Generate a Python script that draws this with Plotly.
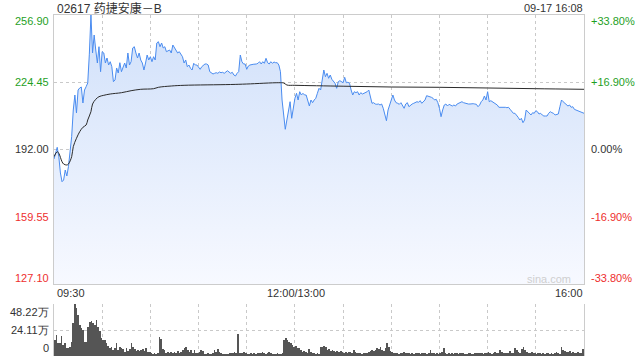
import numpy as np
import plotly.graph_objects as go

# ---------------- data ----------------
title_text = "02617 药捷安康－B"
stamp_text = "09-17 16:08"
prev_close = 192.00

price_min = [0, 2, 3, 4, 5, 6, 7, 8, 9, 10, 11, 12, 13, 14, 15, 16, 17, 18, 19, 20,
             21, 22, 23, 24, 25, 26, 27, 28, 29, 30, 31, 32, 33, 34, 35, 36, 37, 38, 39, 40,
             41, 42, 44, 45, 46, 47, 48, 49, 50, 51, 52, 53, 54, 55, 56, 57, 58, 59, 60, 61,
             62, 63, 64, 65, 66, 67, 68, 69, 70, 72, 73, 74, 75, 76, 77, 78, 79, 80, 81,
             82, 83, 84, 85, 86, 87, 88, 89, 90, 91, 92, 93, 94, 95, 96, 97, 98, 99, 100,
             101, 102, 103, 104, 105, 106, 107, 108, 110, 111, 112, 113, 114, 115, 116, 117,
             118, 119, 120, 121, 122, 123, 124, 126, 127, 128, 129, 130, 131, 132, 133, 134,
             135, 136, 137, 138, 139, 140, 141, 142, 143, 144, 145, 146, 147, 148, 149, 150,
             151, 152, 153, 154, 155, 156, 157, 158, 159, 160, 161, 162, 163, 164, 165, 166,
             167, 168, 169, 170, 171, 172, 173, 174, 175, 176, 177, 178, 179, 180, 181, 182,
             183, 184, 185, 186, 187, 188, 189, 190, 191, 192, 193, 194, 195, 196, 197, 198,
             199, 200, 201, 202, 203, 204, 205, 206, 207, 208, 209, 210, 211, 212, 213, 214,
             215, 216, 217, 218, 219, 220, 221, 222, 223, 224, 225, 226, 227, 228, 229, 230,
             231, 232, 233, 234, 235, 236, 237, 238, 239, 240, 241, 242, 243, 244, 245, 246,
             247, 248, 249, 250, 251, 252, 253, 254, 255, 256, 258, 259, 260, 261, 262, 263,
             264, 265, 266, 267, 268, 269, 270, 271, 272, 273, 274, 275, 276, 277, 278, 279,
             280, 281, 282, 283, 284, 286, 287, 288, 289, 290, 291, 292, 293, 294, 295, 296,
             297, 298, 299, 300, 301, 302, 303, 304, 305, 306, 307, 308, 309, 310, 311, 312,
             314, 315, 316, 317, 318, 319, 320, 321, 322, 323, 324, 325, 326, 327, 328, 330]

price = [187.42, 193.06, 188.53, 180.66, 176.46, 177.28, 182.11, 179.21, 183.70, 190.31,
         198.18, 211.06, 218.30, 209.61, 220.71, 221.68, 222.16, 214.44, 220.71, 222.30,
         224.09, 238.00, 256.90, 238.56, 247.25, 240.01, 233.74, 241.60, 229.54, 239.19,
         238.56, 233.74, 236.15, 232.77, 234.37, 231.95, 224.72, 225.54, 231.33, 228.91,
         233.88, 229.54, 233.74, 231.33, 238.56, 232.77, 234.37, 240.98, 241.60, 238.56,
         236.15, 238.56, 235.19, 233.74, 230.36, 233.74, 237.60, 235.19, 236.78, 234.37,
         236.78, 235.19, 243.39, 244.02, 241.60, 243.39, 240.98, 241.60, 239.19, 240.01,
         238.56, 242.42, 240.98, 240.01, 238.56, 239.19, 237.60, 236.78, 233.74,
         235.19, 231.95, 232.77, 231.18, 230.36, 233.59, 232.77, 232.77, 231.95, 230.70,
         231.95, 232.77, 233.26, 233.26, 232.77, 229.54, 228.77, 228.43, 228.77,
         229.06, 228.77, 229.40, 229.06, 229.25, 228.77, 229.54, 230.02, 228.77, 229.25,
         227.95, 227.47, 228.77, 229.54, 237.60, 234.37,
         233.26, 233.26, 230.70, 232.29, 232.77, 232.77, 233.11, 233.26, 233.59, 234.37,
         233.26, 234.37, 233.59, 236.01, 233.88, 233.26,
         234.37, 233.59, 234.22, 233.88, 233.88, 232.77, 229.54, 215.88, 207.83, 201.75,
         206.23, 211.06, 215.06, 207.05, 212.65, 216.71,
         219.12, 215.88, 219.89, 218.30, 219.12, 218.30, 218.30, 215.88, 212.99, 215.88,
         214.58, 215.88, 216.71, 219.12, 221.53, 220.71,
         226.36, 230.36, 227.13, 228.77, 226.36, 227.95, 225.87, 224.72, 223.94, 221.53,
         224.72, 225.20, 224.72, 224.23, 226.84, 224.23,
         224.43, 223.94, 220.71, 218.30, 219.89, 219.41, 219.89, 218.30, 219.41, 218.78,
         219.12, 219.41, 219.89, 220.71, 217.48, 214.29,
         214.58, 213.95, 213.81, 213.95, 213.47, 213.95, 211.88, 209.47, 205.90, 211.06,
         213.47, 215.88, 218.30, 215.88, 214.58, 214.29,
         213.81, 214.58, 213.47, 211.88, 213.95, 214.58, 212.65, 213.47, 213.95, 214.29,
         214.58, 215.06, 214.78, 215.55, 214.29, 215.06,
         215.88, 217.96, 217.82, 217.48, 217.19, 216.71, 215.88, 216.22, 214.58, 211.88,
         207.83, 211.06, 213.47, 213.95, 212.99, 213.81,
         213.47, 212.99, 213.47, 212.99, 213.95, 214.29, 214.58, 215.06, 214.58, 214.29,
         213.95, 213.95, 214.10, 214.10, 213.95, 213.81,
         212.65, 213.47, 215.06, 215.88, 217.82, 215.88, 219.89, 215.06, 215.55, 215.06,
         214.58, 214.29, 213.47, 212.36, 212.36, 212.65,
         212.65, 212.36, 212.17, 212.36, 211.40, 209.47, 209.47, 208.65, 207.54, 206.23,
         207.05, 204.93, 206.23, 211.06, 210.24, 209.47,
         208.65, 209.76, 209.47, 210.72, 210.24, 209.13, 209.47, 208.65, 208.16, 208.16,
         208.16, 209.47, 210.24, 209.76, 209.47, 208.65,
         209.13, 212.65, 215.88, 215.06, 214.29, 213.95, 212.99, 213.47, 212.36, 212.65,
         211.40, 211.06, 210.72, 210.24, 209.76, 209.47]

avg_min = [0, 2, 3, 5, 6, 8, 9, 11, 12, 14, 16, 18, 20, 21, 23, 24, 26, 28, 31, 35, 42,
           48, 54, 62, 65, 73, 81, 110, 120, 140, 143, 145, 150, 180, 210, 240, 270, 300, 330]
avg_price = [188.53, 190.94, 190.17, 186.11, 185.00, 184.52, 185.00, 188.53, 193.35, 197.40,
             200.59, 202.71, 203.82, 206.23, 210.24, 213.95, 216.22, 217.48, 218.15, 218.78,
             219.41, 220.37, 221.05, 221.34, 222.01, 222.64, 222.98, 223.36, 223.60, 224.23,
             224.09, 223.12, 222.98, 222.54, 222.16, 222.01, 221.68, 221.34, 221.05]

volume_morning = [14.84, 19.47, 12.36, 12.36, 18.55, 10.2, 11.75, 7.11, 7.11, 8.65,
                  13.29, 30.29, 48.22, 44.2, 38.02, 28.75, 25.66, 24.11, 13.29, 13.29,
                  27.2, 31.84, 32.46, 30.91, 28.75, 33.38, 27.2, 23.49, 16.38, 14.84,
                  14.84, 11.75, 9.27, 7.11, 8.04, 5.56, 7.11, 12.36, 5.56, 8.04,
                  7.11, 6.18, 4.02, 7.11, 4.95, 6.18, 11.75, 8.04, 6.18, 4.95,
                  5.56, 4.95, 5.56, 6.18, 4.95, 7.11, 4.02, 4.02, 3.09, 1.85,
                  2.47, 1.85, 3.09, 17.31, 16.07, 6.18, 5.56, 3.09, 4.02, 3.09,
                  3.7, 3.09, 4.02, 3.09, 4.95, 3.09, 4.02, 5.56, 7.11, 8.04,
                  5.56, 4.02, 5.56, 3.09, 5.56, 2.47, 3.09, 4.02, 5.56, 4.95,
                  1.85, 1.85, 2.47, 1.85, 1.85, 3.09, 5.56, 4.02, 6.18, 4.02,
                  2.47, 1.85, 1.85, 1.85, 1.85, 3.09, 2.47, 3.09, 4.02, 3.09,
                  20.4, 3.09, 2.47, 3.09, 4.02, 2.47, 1.85, 1.85, 2.47, 1.85,
                  2.47, 1.85, 2.47, 2.47, 3.09, 4.02, 2.47, 1.85, 2.47, 4.02,
                  3.09, 1.85, 1.85, 1.85, 2.47, 1.85, 1.85, 2.47, 14.84, 16.38,
                  14.84, 13.29, 11.75, 10.2, 8.04, 9.27, 7.11, 7.11, 5.56, 4.02,
                  4.95, 4.02, 3.09, 6.18, 4.02, 3.09, 2.47, 1.85, 2.47, 1.85]
volume_afternoon = [8.04, 8.65, 9.27, 8.04, 5.56, 6.18, 4.95, 5.56, 4.95, 4.02,
                    4.95, 4.02, 4.95, 4.02, 3.09, 4.02, 3.09, 4.02, 4.02, 3.09,
                    5.56, 4.02, 3.09, 2.47, 2.47, 1.85, 2.47, 3.09, 2.47, 4.02,
                    4.95, 5.56, 4.95, 5.56, 7.11, 6.18, 8.04, 5.56, 4.95, 7.11,
                    11.75, 8.65, 4.95, 4.02, 3.09, 2.47, 2.47, 1.85, 2.47, 3.09,
                    4.02, 2.47, 3.09, 2.47, 1.85, 2.47, 1.85, 2.47, 3.09, 2.47,
                    1.85, 2.47, 3.09, 2.47, 1.85, 2.47, 5.56, 3.09, 2.47, 1.85,
                    2.47, 1.85, 2.47, 4.02, 7.11, 2.47, 1.85, 2.47, 1.85, 2.47,
                    1.85, 2.47, 2.47, 1.85, 3.09, 2.47, 2.47, 1.85, 1.85, 2.47,
                    2.47, 1.85, 1.85, 2.47, 2.47, 3.09, 3.09, 2.47, 1.85, 2.47,
                    3.09, 4.02, 2.47, 1.85, 3.09, 4.02, 3.09, 2.47, 5.56, 4.02,
                    2.47, 3.09, 2.47, 3.09, 4.95, 3.09, 2.47, 7.11, 5.56, 4.02,
                    3.09, 6.18, 8.04, 5.56, 4.02, 3.09, 2.47, 4.02, 3.09, 2.47,
                    1.85, 3.09, 2.47, 1.85, 2.47, 1.85, 3.09, 2.47, 1.85, 2.47,
                    1.85, 3.09, 4.02, 2.47, 1.85, 8.04, 5.56, 4.95, 4.02, 4.02,
                    4.95, 3.09, 4.02, 2.47, 3.09, 4.02, 2.47, 3.09, 6.18]

left_tick_vals = [256.90, 224.45, 192.00, 159.55, 127.10]
left_tick_text = ["256.90", "224.45", "192.00", "159.55", "127.10"]
right_tick_text = ["+33.80%", "+16.90%", "0.00%", "-16.90%", "-33.80%"]
vol_tick_vals = [48.22, 24.11, 0]
vol_tick_text = ["48.22万", "24.11万", "0"]
time_tick_text = ["09:30", "12:00/13:00", "16:00"]
session_minutes = 330

# ---------------- figure ----------------
W, H = 640, 360
def px(x):
    return x / W
def py(y):
    return 1 - y / H

volume = volume_morning + volume_afternoon
vol_x = np.linspace(0.6, 329.5, len(volume))

GREEN = "#1f9f1f"
RED = "#ee2e2e"
DARK = "#333333"
GRID = "#c9c9c9"
BORDER = "#cccccc"
FONT = "Liberation Sans, Arial, sans-serif"
TITLE_FONT = "Liberation Sans, Noto Sans CJK SC, sans-serif"

fig = go.Figure()

fig.add_trace(go.Scatter(
    x=price_min, y=price, mode="lines",
    line=dict(color="#4a8cf0", width=1),
    fill="tozeroy",
    fillgradient=dict(type="vertical",
                      colorscale=[[0, "rgb(247,249,255)"], [1, "rgb(208,224,250)"]],
                      start=127.1, stop=256.9),
    hoverinfo="skip", showlegend=False))

fig.add_trace(go.Scatter(
    x=avg_min, y=avg_price, mode="lines", line=dict(color="#2b2b2b", width=1, shape="spline"),
    hoverinfo="skip", showlegend=False))

fig.add_trace(go.Bar(
    x=vol_x, y=volume, xaxis="x2", yaxis="y2", width=0.45,
    marker=dict(color="#555555", line=dict(width=0)),
    hoverinfo="skip", showlegend=False))

grid_x = list(range(30, session_minutes, 30))
xdom = [px(54), px(584)]

fig.update_layout(
    width=W, height=H, margin=dict(l=0, r=0, t=0, b=0),
    paper_bgcolor="white", plot_bgcolor="white",
    font=dict(family=FONT, size=11, color=DARK),
    xaxis=dict(domain=xdom, range=[0, session_minutes], tickvals=grid_x,
               showticklabels=False, ticks="", showgrid=True, gridcolor=GRID,
               griddash="dot", gridwidth=1, zeroline=False,
               showline=True, linecolor=BORDER, linewidth=1, mirror=True, anchor="y"),
    yaxis=dict(domain=[py(284), py(15)], range=[127.1, 256.9],
               tickvals=[159.55, 192.0, 224.45], showticklabels=False, ticks="",
               showgrid=True, gridcolor=GRID, griddash="dot", gridwidth=1,
               zeroline=False, showline=True, linecolor=BORDER, linewidth=1,
               mirror=True, anchor="x"),
    xaxis2=dict(domain=xdom, range=[0, session_minutes], tickvals=grid_x,
                showticklabels=False, ticks="", showgrid=True, gridcolor=GRID,
                griddash="dot", gridwidth=1, zeroline=False, showline=False,
                anchor="y2"),
    yaxis2=dict(domain=[py(356), py(304)], range=[0, 48.22],
                tickvals=[24.11, 48.22], showticklabels=False, ticks="",
                showgrid=True, gridcolor=GRID, griddash="dot", gridwidth=1,
                zeroline=False, showline=True, linecolor=BORDER, linewidth=1,
                mirror=True, anchor="x2"),
    bargap=0,
)

ann = []
def add_text(x, y, text, xanchor, color=DARK, size=11, family=FONT):
    ann.append(dict(x=px(x), y=py(y), xref="paper", yref="paper", text=text,
                    showarrow=False, xanchor=xanchor, yanchor="middle",
                    font=dict(family=family, size=size, color=color)))

add_text(55, 8, title_text, "left", DARK, 12, TITLE_FONT)
add_text(585, 8, stamp_text, "right", DARK, 11)

label_y = [21, 82, 149, 217, 278]
label_col = [GREEN, GREEN, DARK, RED, RED]
for v, lt, rt, yy, c in zip(left_tick_vals, left_tick_text, right_tick_text, label_y, label_col):
    add_text(51, yy, lt, "right", c)
    add_text(589, yy, rt, "left", c)

for t, yy in zip(vol_tick_text, [311.5, 330, 348]):
    add_text(51, yy, t, "right", DARK)

add_text(55, 293, time_tick_text[0], "left")
add_text(296, 293, time_tick_text[1], "center")
add_text(585, 293, time_tick_text[2], "right")

add_text(573, 279, "sina.com", "right", "#cfcfcf", 11)

fig.update_layout(annotations=ann)
fig.write_html("out.html")
